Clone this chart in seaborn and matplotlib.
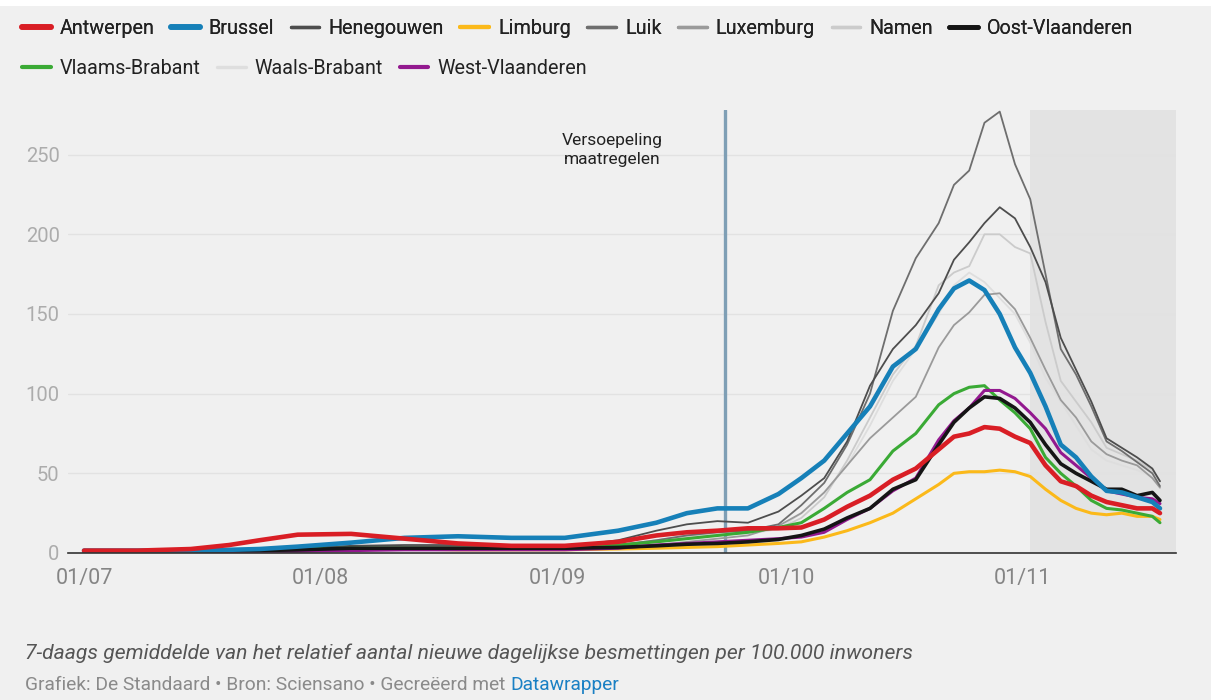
import matplotlib
matplotlib.use("Agg")
import matplotlib.pyplot as plt
import matplotlib.dates as mdates
from matplotlib.lines import Line2D
from matplotlib.patches import Rectangle
import seaborn as sns
import pandas as pd

dates = ["01/07", "08/07", "15/07", "20/07", "24/07", "29/07", "05/08", "12/08", "19/08",
         "26/08", "02/09", "09/09", "14/09", "18/09", "22/09", "26/09", "30/09", "03/10",
         "06/10", "09/10", "12/10", "15/10", "18/10", "21/10", "23/10", "25/10", "27/10",
         "29/10", "31/10", "02/11", "04/11", "06/11", "08/11", "10/11", "12/11", "14/11",
         "16/11", "18/11", "19/11"]

antwerpen = [1.5, 1.5, 2.5, 5, 8, 11.5, 12, 9, 6, 4.5, 4.5, 7, 11, 13, 14, 15.5, 15.5, 16, 21, 29,
             36, 46, 53, 65, 73, 75, 79, 78, 73, 69, 55, 45, 42, 36, 32, 30, 28, 28, 25]
brussel = [1.5, 1.5, 1.5, 2, 2.5, 4, 6.5, 9.5, 10.5, 9.5, 9.5, 14, 19, 25, 28, 28, 37, 47, 58, 75,
           92, 117, 128, 153, 166, 171, 165, 150, 129, 113, 92, 68, 60, 48, 39, 38, 35, 32, 28]
henegouwen = [1, 1, 1, 1.5, 2, 3, 4.5, 5, 5, 4, 4, 8, 14, 18, 20, 19, 26, 36, 47, 70,
              105, 128, 143, 163, 184, 195, 207, 217, 210, 192, 170, 135, 115, 95, 72, 66, 60, 53, 45]
limburg = [1, 1, 1, 1, 1.5, 2, 2.5, 2.5, 2, 2, 2, 2.5, 3, 3.5, 4, 5, 6, 7, 10, 14,
           19, 25, 34, 43, 50, 51, 51, 52, 51, 48, 40, 33, 28, 25, 24, 25, 23, 23, 21]
luik = [1, 1, 1, 1, 1.5, 2, 3, 3.5, 3.5, 3, 3, 5, 8, 11, 13, 14, 18, 30, 44, 68,
        100, 152, 185, 207, 231, 240, 270, 277, 244, 222, 175, 128, 112, 92, 70, 64, 57, 50, 42]
luxemburg = [0.5, 0.5, 0.5, 1, 1, 1.5, 2, 2.5, 2.5, 2, 2, 3, 5, 7, 9, 11, 17, 25, 38, 55,
             72, 85, 98, 129, 143, 151, 162, 163, 153, 135, 115, 96, 85, 70, 62, 58, 55, 47, 41]
namen = [1, 1, 1, 1, 1.5, 2, 2.5, 3, 3, 3, 3, 5, 8, 11, 13, 13, 15, 22, 35, 58,
         85, 112, 130, 168, 176, 180, 200, 200, 192, 188, 145, 108, 95, 82, 66, 62, 58, 52, 45]
oost_vlaanderen = [1, 1, 1, 1.5, 1.5, 2, 3, 3, 3, 3, 3, 3.5, 4.5, 5.5, 6, 7, 8.5, 11, 15, 22,
                   28, 40, 46, 68, 82, 91, 98, 97, 91, 82, 68, 56, 50, 45, 40, 40, 36, 38, 33]
vlaams_brabant = [1, 1, 1, 1.5, 2, 2.5, 3, 3, 3, 3, 3.5, 5, 7, 9, 11, 13, 16, 19, 28, 38,
                  46, 64, 75, 93, 100, 104, 105, 96, 88, 78, 60, 50, 42, 33, 28, 27, 25, 23, 19]
waals_brabant = [1, 1, 1, 1.5, 2, 2.5, 3, 3.5, 3.5, 3, 3, 5, 8, 10, 12, 12, 15, 25, 38, 55,
                 80, 108, 128, 150, 168, 176, 170, 160, 150, 132, 110, 95, 80, 65, 58, 55, 52, 48, 42]
west_vlaanderen = [0.5, 0.5, 0.5, 0.5, 1, 1, 1.5, 2, 2, 2, 2, 3, 5, 6, 7, 8, 9, 10, 13, 21,
                   28, 39, 47, 71, 83, 91, 102, 102, 97, 88, 78, 63, 55, 47, 39, 37, 35, 34, 31]

series = {
    "Antwerpen": antwerpen, "Brussel": brussel, "Henegouwen": henegouwen, "Limburg": limburg,
    "Luik": luik, "Luxemburg": luxemburg, "Namen": namen, "Oost-Vlaanderen": oost_vlaanderen,
    "Vlaams-Brabant": vlaams_brabant, "Waals-Brabant": waals_brabant, "West-Vlaanderen": west_vlaanderen,
}
colors = {
    "Antwerpen": "#d91e25", "Brussel": "#1680b8", "Henegouwen": "#4d4d4d", "Limburg": "#fbb91a",
    "Luik": "#6e6e6e", "Luxemburg": "#9a9a9a", "Namen": "#cbcbcb", "Oost-Vlaanderen": "#151515",
    "Vlaams-Brabant": "#3aaa35", "Waals-Brabant": "#dedede", "West-Vlaanderen": "#93198f",
}
widths = {
    "Antwerpen": 3.3, "Brussel": 3.3, "Henegouwen": 1.3, "Limburg": 2.2, "Luik": 1.3,
    "Luxemburg": 1.3, "Namen": 1.3, "Oost-Vlaanderen": 2.6, "Vlaams-Brabant": 2.2,
    "Waals-Brabant": 1.3, "West-Vlaanderen": 2.2,
}
draw_order = ["Waals-Brabant", "Namen", "Luxemburg", "Luik", "Henegouwen", "Limburg",
              "Vlaams-Brabant", "West-Vlaanderen", "Oost-Vlaanderen", "Brussel", "Antwerpen"]
legend_order = list(series.keys())

datum = pd.to_datetime([d + "/2020" for d in dates], format="%d/%m/%Y")
df = pd.concat([pd.DataFrame({"datum": datum, "waarde": v, "provincie": k})
                for k, v in series.items()], ignore_index=True)

bg = "#f0f0f0"
sns.set_style("white")
plt.rcParams["font.family"] = ["Roboto", "DejaVu Sans"]

fig = plt.figure(figsize=(12.11, 7), dpi=100, facecolor=bg)
fig.patches.append(Rectangle((0, 1 - 6 / 700), 1, 6 / 700, transform=fig.transFigure,
                             facecolor="white", edgecolor="none", zorder=-1))
ax = fig.add_axes([68 / 1211, 147 / 700, (1176 - 68) / 1211, (553 - 110) / 700])
ax.set_facecolor(bg)

x0 = pd.Timestamp("2020-07-01") - pd.Timedelta(days=2.1)
x1 = pd.Timestamp("2020-07-01") + pd.Timedelta(days=143.1)
ax.axvspan(pd.Timestamp("2020-11-02"), x1, color="#e3e3e3", lw=0, zorder=0)

for i, prov in enumerate(draw_order):
    sns.lineplot(data=df[df["provincie"] == prov], x="datum", y="waarde", ax=ax,
                 color=colors[prov], lw=widths[prov], zorder=3 + i, legend=False,
                 solid_joinstyle="round", solid_capstyle="round")

vdate = pd.Timestamp("2020-09-23")
ax.axvline(vdate, color="#7f9fb5", lw=2.4, zorder=2)
ax.text(pd.Timestamp("2020-09-08 06:00"), 253, "Versoepeling\nmaatregelen", ha="center",
        va="center", fontsize=12.5, color="#222222", linespacing=1.3)

ax.set_xlim(x0, x1)
ax.set_ylim(0, 278)
ax.set_yticks([0, 50, 100, 150, 200, 250])
ax.yaxis.grid(True, color="#e2e2e2", lw=1, zorder=1)
ax.set_axisbelow(True)
ax.xaxis.set_major_locator(mdates.MonthLocator())
ax.xaxis.set_major_formatter(mdates.DateFormatter("%d/%m"))
ax.tick_params(axis="x", length=6, width=1, color="#333333", pad=5, labelsize=15.5,
               labelcolor="#858585")
ax.tick_params(axis="y", length=0, pad=6, labelsize=14.5, labelcolor="#acacac")
ax.set_xlabel("")
ax.set_ylabel("")
for s in ["top", "right", "left"]:
    ax.spines[s].set_visible(False)
ax.spines["bottom"].set_color("#333333")
ax.spines["bottom"].set_linewidth(1.2)
ax.spines["bottom"].set_zorder(20)

handles = [Line2D([0], [0], color=colors[p], lw=max(widths[p], 1.6) + 0.8, solid_capstyle="round")
           for p in legend_order]
leg_kw = dict(frameon=False, fontsize=14.2, handlelength=1.45, handletextpad=0.45,
              columnspacing=0.85, borderaxespad=0, borderpad=0, labelcolor="#222222")
leg1 = fig.legend(handles[:8], legend_order[:8], ncol=8, loc="center left",
                  bbox_to_anchor=(22 / 1211, 1 - 28 / 700), **leg_kw)
fig.legend(handles[8:], legend_order[8:], ncol=3, loc="center left",
           bbox_to_anchor=(22 / 1211, 1 - 68 / 700), **leg_kw)
fig.add_artist(leg1)

fig.text(25 / 1211, 1 - 653 / 700,
         "7-daags gemiddelde van het relatief aantal nieuwe dagelijkse besmettingen per 100.000 inwoners",
         fontsize=15.2, style="italic", color="#555555", va="center")
src = fig.text(25 / 1211, 1 - 685 / 700, "Grafiek: De Standaard • Bron: Sciensano • Gecreëerd met ",
               fontsize=13.8, color="#8a8a8a", va="center")
fig.canvas.draw()
bb = src.get_window_extent()
fig.text(bb.x1 / 1211, 1 - 685 / 700, "Datawrapper", fontsize=13.8, color="#1a80c4", va="center")

fig.savefig("out.png", dpi=100, facecolor=bg)
